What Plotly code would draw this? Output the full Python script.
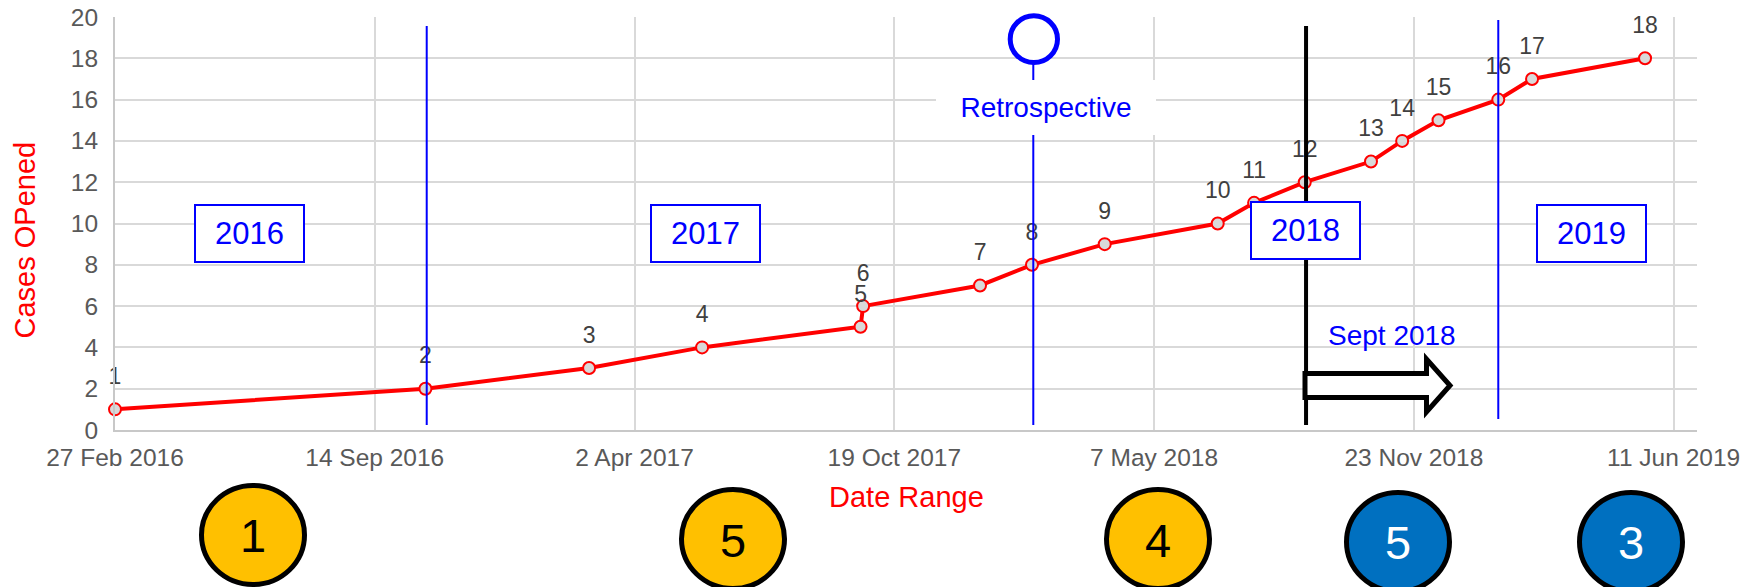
import plotly.graph_objects as go

# ---------------- data ----------------
case_dates = ["2016-02-27", "2016-10-23", "2017-02-26", "2017-05-24", "2017-09-23",
              "2017-09-25", "2017-12-24", "2018-02-02", "2018-03-30", "2018-06-25",
              "2018-07-23", "2018-08-31", "2018-10-21", "2018-11-14", "2018-12-12",
              "2019-01-27", "2019-02-22", "2019-05-20"]
case_counts = [1, 2, 3, 4, 5, 6, 7, 8, 9, 10, 11, 12, 13, 14, 15, 16, 17, 18]
case_labels = ["1", "2", "3", "4", "5", "6", "7", "8", "9", "10", "11", "12",
               "13", "14", "15", "16", "17", "18"]

x_tick_dates = ["2016-02-27", "2016-09-14", "2017-04-02", "2017-10-19",
                "2018-05-07", "2018-11-23", "2019-06-11"]
x_tick_labels = ["27 Feb 2016", "14 Sep 2016", "2 Apr 2017", "19 Oct 2017",
                 "7 May 2018", "23 Nov 2018", "11 Jun 2019"]
y_tick_values = [0, 2, 4, 6, 8, 10, 12, 14, 16, 18, 20]

year_divider_dates = ["2016-10-24", "2019-01-27"]
retrospective_date = "2018-02-03"
sept_date = "2018-09-01"
year_labels = ["2016", "2017", "2018", "2019"]
bottom_counts = ["1", "5", "4", "5", "3"]

x_range = ["2016-02-27", "2019-06-29"]
y_range = [0, 20]

# ---------------- geometry helpers (pixel -> paper) ----------------
W, H = 1742, 587
ML, MR, MT, MB = 115, 45, 17, 157
PW, PH = W - ML - MR, H - MT - MB


def px(x):
    return (x - ML) / PW


def py(y):
    return (H - MB - y) / PH


FONT = "Liberation Sans, Arial, sans-serif"
BLUE = "#0000FF"
RED = "#FF0000"

fig = go.Figure()

fig.add_trace(go.Scatter(
    x=case_dates, y=case_counts, mode="lines+markers",
    line=dict(color=RED, width=4),
    marker=dict(size=12, color="#D9D9D9", line=dict(color=RED, width=2)),
    hoverinfo="x+y", cliponaxis=False,
))

# data labels, placed 31 px above each point through the y scale
label_offset = 31 * (y_range[1] - y_range[0]) / PH
fig.add_trace(go.Scatter(
    x=case_dates, y=[v + label_offset for v in case_counts], mode="text",
    text=case_labels, textposition="middle center",
    textfont=dict(family=FONT, size=23, color="#404040"),
    hoverinfo="skip", cliponaxis=False,
))

shapes = []
# blue year dividers
for d, (y0, y1) in zip(year_divider_dates, [(26, 425), (20, 419)]):
    shapes.append(dict(type="line", xref="x", yref="paper", x0=d, x1=d,
                       y0=py(y1), y1=py(y0), line=dict(color=BLUE, width=2)))
# retrospective line + circle
shapes.append(dict(type="line", xref="x", yref="paper", x0=retrospective_date,
                   x1=retrospective_date, y0=py(425), y1=py(63),
                   line=dict(color=BLUE, width=2)))
shapes.append(dict(type="circle", xref="paper", yref="paper",
                   x0=px(1010.2), x1=px(1057.5), y0=py(62.5), y1=py(15.8),
                   fillcolor="white", line=dict(color=BLUE, width=5)))
# black Sept 2018 line
shapes.append(dict(type="line", xref="x", yref="paper", x0=sept_date, x1=sept_date,
                   y0=py(425), y1=py(26), line=dict(color="black", width=4)))
# block arrow
arrow_pts = [(1305, 373.5), (1426.5, 373.5), (1426.5, 359), (1450, 385.5),
             (1426.5, 412), (1426.5, 397.5), (1305, 397.5)]
path = "M " + " L ".join(f"{px(a):.5f},{py(b):.5f}" for a, b in arrow_pts) + " Z"
shapes.append(dict(type="path", xref="paper", yref="paper", path=path,
                   fillcolor="white", line=dict(color="black", width=5)))

# bottom count circles
circle_specs = [(253, 485.5, "#FFC000", "black", 535),
                (733, 489.5, "#FFC000", "black", 540),
                (1158, 489.5, "#FFC000", "black", 540),
                (1398, 492.5, "#0070C0", "white", 542),
                (1631, 492.5, "#0070C0", "white", 542)]
annotations = []
for (cx, top, fill, tcol, ty), val in zip(circle_specs, bottom_counts):
    shapes.append(dict(type="circle", xref="paper", yref="paper",
                       x0=px(cx - 51.5), x1=px(cx + 51.5),
                       y0=py(top + 99), y1=py(top),
                       fillcolor=fill, line=dict(color="black", width=5)))
    annotations.append(dict(xref="paper", yref="paper", x=px(cx), y=py(ty),
                            text=val, showarrow=False, xanchor="center",
                            yanchor="middle",
                            font=dict(family=FONT, size=47, color=tcol)))

# year boxes
year_box_pos = [(249.7, 233.5), (705.1, 233.5), (1305.7, 230.5), (1591.0, 233.5)]
for (cx, cy), yl in zip(year_box_pos, year_labels):
    annotations.append(dict(xref="paper", yref="paper", x=px(cx), y=py(cy),
                            text=yl, showarrow=False, xanchor="center",
                            yanchor="middle", width=107, height=55,
                            bgcolor="white", bordercolor=BLUE, borderwidth=2,
                            borderpad=0,
                            font=dict(family=FONT, size=31, color=BLUE)))

# Retrospective label
annotations.append(dict(xref="paper", yref="paper", x=px(1046), y=py(107.5),
                        text="Retrospective", showarrow=False, xanchor="center",
                        yanchor="middle", width=220, height=55, bgcolor="white",
                        borderwidth=0, borderpad=0,
                        font=dict(family=FONT, size=28, color=BLUE)))
# Sept 2018 label
annotations.append(dict(xref="paper", yref="paper", x=px(1391.7), y=py(335),
                        text="Sept 2018", showarrow=False, xanchor="center",
                        yanchor="middle",
                        font=dict(family=FONT, size=28, color=BLUE)))
# axis titles
annotations.append(dict(xref="paper", yref="paper", x=px(24), y=py(240.5),
                        text="Cases OPened", showarrow=False, textangle=-90,
                        xanchor="center", yanchor="middle",
                        font=dict(family=FONT, size=29, color=RED)))
annotations.append(dict(xref="paper", yref="paper", x=px(906.7), y=py(496.7),
                        text="Date Range", showarrow=False, xanchor="center",
                        yanchor="middle",
                        font=dict(family=FONT, size=29, color=RED)))

fig.update_layout(
    width=W, height=H,
    margin=dict(l=ML, r=MR, t=MT, b=MB, pad=0, autoexpand=False),
    paper_bgcolor="white", plot_bgcolor="white",
    showlegend=False,
    shapes=shapes, annotations=annotations,
    font=dict(family=FONT),
)
fig.update_xaxes(
    type="date", range=x_range, tickmode="array", tickvals=x_tick_dates,
    ticktext=x_tick_labels, showgrid=True, gridcolor="#D9D9D9", gridwidth=2,
    showline=True, linecolor="#C8C8C8", linewidth=2, zeroline=False,
    ticks="", ticklabelstandoff=5, automargin=False,
    tickfont=dict(family=FONT, size=24.5, color="#595959"),
)
fig.update_yaxes(
    range=y_range, tickmode="array", tickvals=y_tick_values,
    showgrid=True, gridcolor="#D9D9D9", gridwidth=2,
    showline=True, linecolor="#C8C8C8", linewidth=2, zeroline=False,
    ticks="", ticklabelstandoff=10, automargin=False,
    tickfont=dict(family=FONT, size=24.5, color="#595959"),
)

fig.write_html(
    "out.html",
    config={"displayModeBar": False},
    post_script="document.body.style.margin='0';document.body.style.overflow='hidden';",
)
